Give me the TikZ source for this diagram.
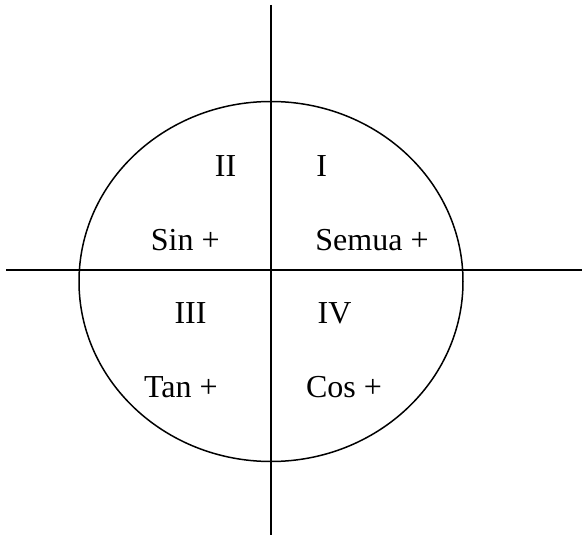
\documentclass[tikz,border=0pt]{standalone}
\usepackage{fontspec}
\setmainfont{Liberation Serif}
\begin{document}
\begin{tikzpicture}[x=1pt,y=-1pt,
  axis/.style={line width=1.5pt,black},
  circ/.style={line width=1.5pt,black},
  lbl/.style={anchor=base,inner sep=0pt,font=\fontsize{32}{38}\selectfont}]
\useasboundingbox (0,0) rectangle (582,535);
\coordinate (vtop) at (271,5);
\coordinate (vbot) at (271,535);
\coordinate (hl) at (6,270);
\coordinate (hr) at (582,270);
\draw[circ] (271,281.5) ellipse [x radius=192, y radius=180];
\draw[axis] (vtop) -- (vbot);
\draw[axis] (hl) -- (hr);
\node[lbl] (q2) at (225.5,176.5) {II};
\node[lbl] (q1) at (321.7,176.5) {I};
\node[lbl] (sin) at (185.3,250) {Sin +};
\node[lbl] (semua) at (372,250) {Semua +};
\node[lbl] (q3) at (190.5,323) {III};
\node[lbl] (q4) at (334.5,323) {IV};
\node[lbl] (tan) at (180.8,397) {Tan +};
\node[lbl] (cos) at (344,397) {Cos +};
\end{tikzpicture}
\end{document}
